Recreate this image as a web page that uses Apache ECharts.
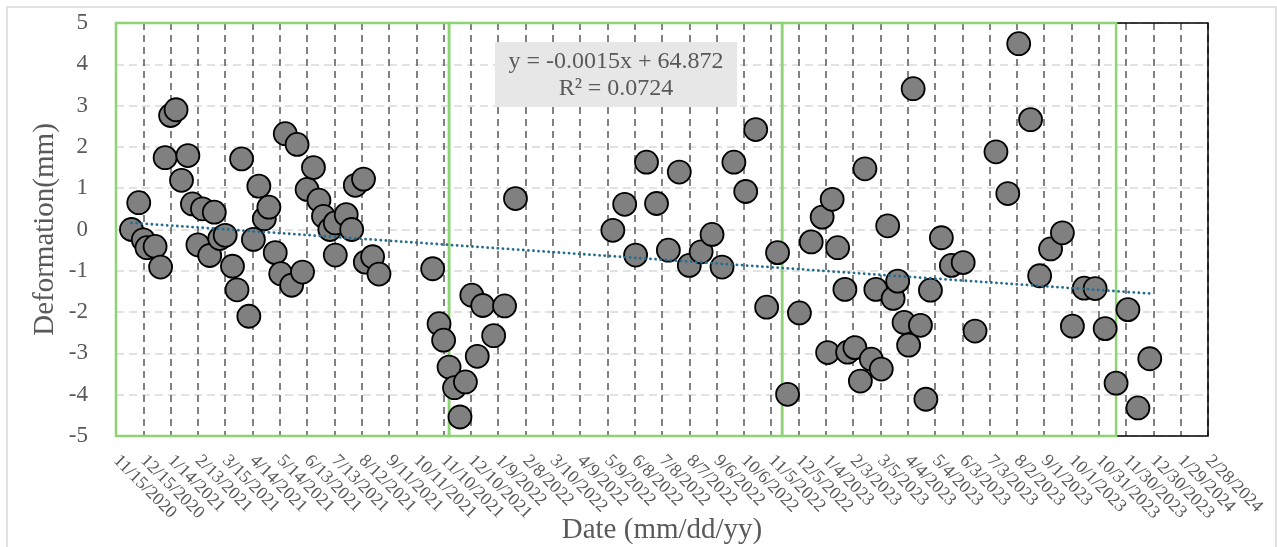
<!DOCTYPE html>
<html>
<head>
<meta charset="utf-8">
<title>Deformation</title>
<script src="https://cdn.jsdelivr.net/npm/echarts@6/dist/echarts.min.js"></script>
<style>
  html, body { margin: 0; padding: 0; background: #fff; }
  #chart { width: 1277px; height: 547px; }
</style>
</head>
<body>
<div id="chart"></div>
<script>
// axis starts here, ticks every 30 days
const startDate = '11/15/2020'
const endDate = '2/28/2024'
const tickDays = 30

// yearly windows (green boxes)
const yearBounds = ['11/15/2020', '11/16/2021', '11/17/2022', '11/19/2023']

const dates = [
  '12/2/2020', '12/10/2020', '12/15/2020', '12/19/2020', '12/28/2020', '1/3/2021', '1/8/2021', '1/14/2021',
  '1/20/2021', '1/26/2021', '2/2/2021', '2/7/2021', '2/13/2021', '2/18/2021', '2/26/2021', '3/3/2021',
  '3/9/2021', '3/15/2021', '3/23/2021', '3/28/2021', '4/2/2021', '4/10/2021', '4/15/2021', '4/21/2021',
  '4/27/2021', '5/2/2021', '5/9/2021', '5/15/2021', '5/20/2021', '5/27/2021', '6/2/2021', '6/8/2021',
  '6/13/2021', '6/20/2021', '6/26/2021', '7/1/2021', '7/8/2021', '7/14/2021', '7/14/2021', '7/26/2021',
  '8/1/2021', '8/5/2021', '8/14/2021', '8/16/2021', '8/24/2021', '8/31/2021',
  '10/29/2021', '11/5/2021', '11/10/2021', '11/16/2021', '11/22/2021', '11/28/2021', '12/4/2021', '12/11/2021',
  '12/17/2021', '12/23/2021', '1/4/2022', '1/16/2022', '1/28/2022',
  '5/15/2022', '5/28/2022', '6/9/2022', '6/21/2022', '7/2/2022', '7/15/2022', '7/27/2022', '8/7/2022',
  '8/20/2022', '9/1/2022', '9/12/2022', '9/25/2022', '10/8/2022', '10/19/2022', '10/31/2022', '11/12/2022',
  '11/23/2022', '12/6/2022', '12/19/2022', '12/31/2022', '1/6/2023', '1/11/2023', '1/17/2023', '1/25/2023',
  '1/28/2023', '2/5/2023', '2/11/2023', '2/16/2023', '2/23/2023', '2/28/2023', '3/6/2023', '3/13/2023',
  '3/19/2023', '3/24/2023', '3/31/2023', '4/5/2023', '4/10/2023', '4/18/2023', '4/24/2023', '4/29/2023',
  '5/11/2023', '5/22/2023', '6/4/2023', '6/17/2023', '7/10/2023', '7/23/2023', '8/4/2023', '8/17/2023',
  '8/27/2023', '9/8/2023', '9/21/2023', '10/2/2023', '10/15/2023', '10/27/2023', '11/7/2023', '11/19/2023',
  '12/2/2023', '12/13/2023', '12/26/2023'
]

const deformation = [
  0.0, 0.65, -0.25, -0.44, -0.41, -0.91, 1.74, 2.76,
  2.9, 1.19, 1.79, 0.62, -0.37, 0.5, -0.63, 0.42,
  -0.22, -0.14, -0.89, -1.46, 1.71, -2.1, -0.24, 1.05,
  0.26, 0.54, -0.56, -1.07, 2.32, -1.35, 2.06, -1.03,
  0.97, 1.5, 0.71, 0.32, 0.0, 0.16, -0.62, 0.36,
  0.0, 1.07, 1.22, -0.79, -0.66, -1.08,
  -0.95, -2.28, -2.68, -3.33, -3.83, -4.54, -3.69, -1.59,
  -3.07, -1.84, -2.57, -1.85, 0.75,
  -0.02, 0.61, -0.62, 1.63, 0.63, -0.5, 1.39, -0.87,
  -0.54, -0.12, -0.91, 1.63, 0.92, 2.42, -1.88, -0.56,
  -3.99, -2.02, -0.3, 0.3, -2.98, 0.73, -0.44, -1.45,
  -2.97, -2.86, -3.67, 1.47, -3.14, -1.45, -3.38, 0.09,
  -1.67, -1.25, -2.25, -2.8, 3.41, -2.32, -4.11, -1.47,
  -0.2, -0.87, -0.8, -2.46, 1.88, 0.87, 4.5, 2.66,
  -1.12, -0.47, -0.08, -2.34, -1.42, -1.43, -2.4, -3.72,
  -1.94, -4.32, -3.13
]

const trendLabel = ['y = -0.0015x + 64.872', 'R² = 0.0724']

const DAY = 86400000
const toUTC = (s) => {
  const [m, d, y] = s.split('/').map(Number)
  return Date.UTC(y, m - 1, d)
}
const t0 = toUTC(startDate)
const toDay = (s) => Math.round((toUTC(s) - t0) / DAY)
const dayLabel = (n) => {
  const dt = new Date(t0 + n * DAY)
  return (dt.getUTCMonth() + 1) + '/' + dt.getUTCDate() + '/' + dt.getUTCFullYear()
}

const points = dates.map((d, i) => [toDay(d), deformation[i]])

// linear trend (least squares)
const n = points.length
let sx = 0, sy = 0, sxx = 0, sxy = 0
points.forEach(([x, y]) => { sx += x; sy += y; sxx += x * x; sxy += x * y })
const slope = (n * sxy - sx * sy) / (n * sxx - sx * sx)
const icpt = (sy - slope * sx) / n
const xFirst = points[0][0]
const xLast = points[n - 1][0]
const trend = [[xFirst, icpt + slope * xFirst], [xLast, icpt + slope * xLast]]

// plot frame first (black), then the yearly boxes on top
const areas = [[
  { xAxis: 'min', yAxis: 'min', itemStyle: { borderColor: '#000', borderWidth: 1.5 } },
  { xAxis: 'max', yAxis: 'max' }
]]
for (let i = 0; i < yearBounds.length - 1; i++) {
  areas.push([{ xAxis: toDay(yearBounds[i]) }, { xAxis: toDay(yearBounds[i + 1]) }])
}

const serif = 'Liberation Serif'
const grey = '#595959'

const chart = echarts.init(document.getElementById('chart'))
chart.setOption({
  animation: false,
  grid: { left: 116, top: 23, right: 69, bottom: 111, outerBoundsMode: 'none' },
  xAxis: {
    type: 'value',
    min: 0,
    max: toDay(endDate),
    interval: tickDays,
    name: 'Date (mm/dd/yy)',
    nameLocation: 'middle',
    nameGap: 80,
    nameMoveOverlap: false,
    nameTextStyle: { fontFamily: serif, fontSize: 29, color: grey },
    axisLine: { show: false },
    axisTick: { show: false },
    axisLabel: {
      rotate: -45,
      margin: 22,
      fontFamily: serif,
      fontSize: 18,
      color: grey,
      formatter: (v) => dayLabel(v)
    },
    splitLine: { show: true, lineStyle: { color: grey, width: 1.5, type: [7, 5] } }
  },
  yAxis: {
    type: 'value',
    min: -5,
    max: 5,
    interval: 1,
    name: 'Deformation(mm)',
    nameLocation: 'middle',
    nameGap: 56,
    nameMoveOverlap: false,
    nameTextStyle: { fontFamily: serif, fontSize: 29, color: grey },
    axisLine: { show: false },
    axisTick: { show: false },
    axisLabel: { fontFamily: serif, fontSize: 23, color: grey, margin: 28 },
    splitLine: { show: true, lineStyle: { color: '#d9d9d9', width: 1.5, type: [8, 5] } }
  },
  graphic: [
    {
      type: 'rect',
      shape: { x: 7, y: 7, width: 1269, height: 560 },
      style: { fill: 'none', stroke: '#d9d9d9', lineWidth: 1.5 },
      silent: true, z: -10
    },
    {
      type: 'rect',
      shape: { x: 495, y: 42, width: 242, height: 65 },
      style: { fill: '#e7e7e7' },
      z: 20
    },
    {
      type: 'text',
      x: 616, y: 62,
      style: { text: trendLabel[0], font: '24px "Liberation Serif"', fill: grey, align: 'center', verticalAlign: 'middle' },
      z: 21
    },
    {
      type: 'text',
      x: 616, y: 89,
      style: { text: trendLabel[1], font: '24px "Liberation Serif"', fill: grey, align: 'center', verticalAlign: 'middle' },
      z: 21
    }
  ],
  series: [
    {
      name: 'Deformation',
      type: 'scatter',
      data: points,
      symbol: 'circle',
      symbolSize: 23,
      itemStyle: { color: '#808080', borderColor: '#000', borderWidth: 1.8, opacity: 1 },
      z: 2
    },
    {
      name: 'Trend',
      type: 'line',
      data: trend,
      showSymbol: false,
      lineStyle: { color: '#236d8e', width: 2.8, type: [0.1, 5], cap: 'round' },
      z: 3
    },
    {
      name: 'Years',
      type: 'line',
      data: [],
      z: 4,
      markArea: {
        silent: true,
        itemStyle: { color: 'transparent', borderColor: '#8fd474', borderWidth: 2.5 },
        data: areas
      }
    }
  ]
})
</script>
</body>
</html>
